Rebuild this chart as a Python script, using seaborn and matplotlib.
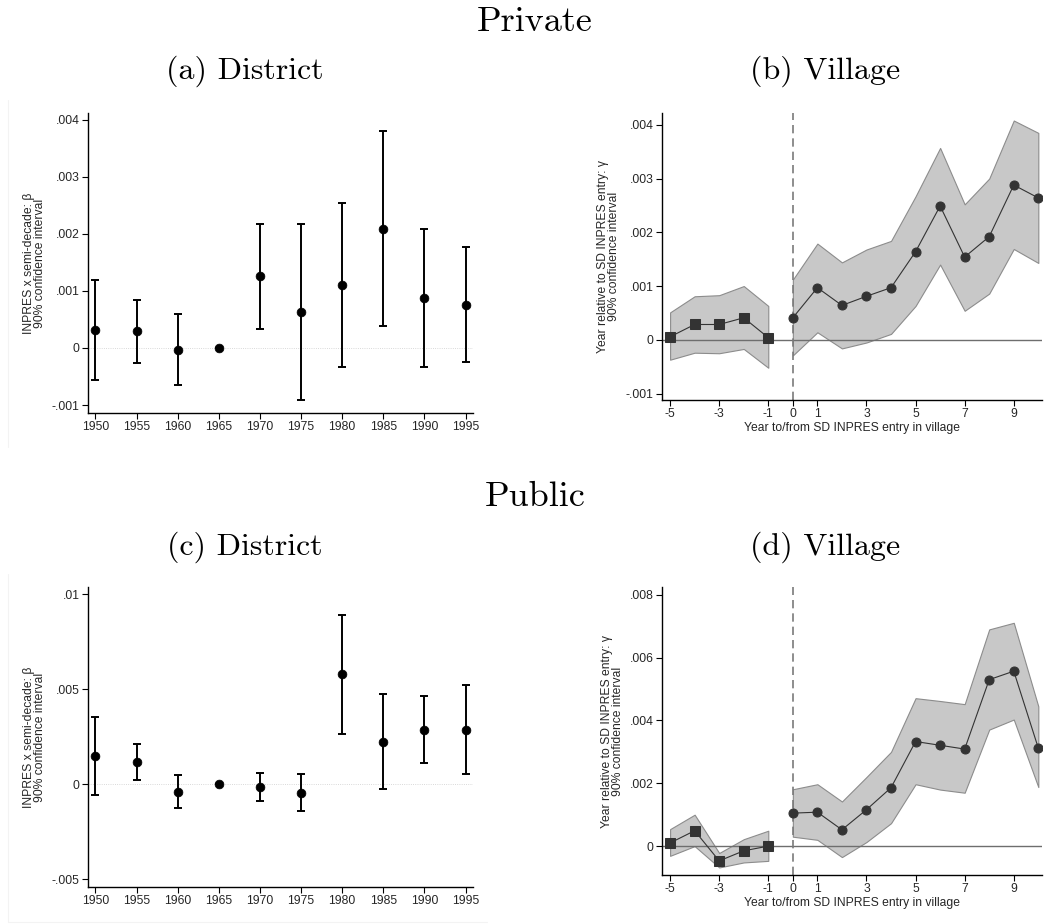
import numpy as np
import pandas as pd
import seaborn as sns
import matplotlib
matplotlib.use("Agg")
from matplotlib import pyplot as plt
from matplotlib.lines import Line2D

# ---- data ----
years = [1950, 1955, 1960, 1965, 1970, 1975, 1980, 1985, 1990, 1995]

priv_dist_b = [0.00032, 0.00029, -0.00003, 0.0, 0.00126, 0.00063, 0.00110, 0.00209, 0.00088, 0.00075]
priv_dist_hi = [0.00120, 0.00084, 0.00060, 0.0, 0.00218, 0.00218, 0.00255, 0.00380, 0.00209, 0.00177]
priv_dist_lo = [-0.00056, -0.00026, -0.00065, 0.0, 0.00034, -0.00092, -0.00034, 0.00039, -0.00033, -0.00025]

pub_dist_b = [0.00149, 0.00117, -0.00040, 0.0, -0.00014, -0.00044, 0.00578, 0.00224, 0.00287, 0.00287]
pub_dist_hi = [0.00356, 0.00209, 0.00047, 0.0, 0.00061, 0.00056, 0.00892, 0.00477, 0.00466, 0.00522]
pub_dist_lo = [-0.00058, 0.00023, -0.00128, 0.0, -0.00088, -0.00142, 0.00265, -0.00026, 0.00109, 0.00056]

pre_t = [-5, -4, -3, -2, -1]
post_t = [0, 1, 2, 3, 4, 5, 6, 7, 8, 9, 10]

priv_pre_g = [0.000056, 0.000285, 0.000285, 0.00041, 0.00004]
priv_pre_hi = [0.00051, 0.00081, 0.00083, 0.00100, 0.00063]
priv_pre_lo = [-0.00037, -0.00024, -0.00025, -0.00017, -0.00052]
priv_post_g = [0.00041, 0.00097, 0.00064, 0.00081, 0.00097, 0.00164, 0.00249, 0.00154, 0.00192, 0.00288, 0.00264]
priv_post_hi = [0.00112, 0.00179, 0.00144, 0.00168, 0.00184, 0.00267, 0.00357, 0.00252, 0.00300, 0.00408, 0.00385]
priv_post_lo = [-0.00029, 0.00014, -0.00016, -0.00005, 0.00011, 0.00063, 0.00140, 0.00054, 0.00086, 0.00169, 0.00143]

pub_pre_g = [0.00010, 0.00049, -0.00047, -0.00015, 0.0]
pub_pre_hi = [0.00054, 0.00100, -0.00022, 0.00022, 0.00049]
pub_pre_lo = [-0.00031, 0.0, -0.00068, -0.00052, -0.00047]
pub_post_g = [0.00105, 0.00108, 0.00052, 0.00116, 0.00186, 0.00333, 0.00321, 0.00309, 0.00530, 0.00557, 0.00312]
pub_post_hi = [0.00181, 0.00197, 0.00142, 0.00220, 0.00300, 0.00471, 0.00462, 0.00452, 0.00690, 0.00711, 0.00445]
pub_post_lo = [0.00030, 0.00020, -0.00035, 0.00013, 0.00073, 0.00197, 0.00180, 0.00170, 0.00371, 0.00403, 0.00188]

priv_dist_ticks = [-0.001, 0, 0.001, 0.002, 0.003, 0.004]
pub_dist_ticks = [-0.005, 0, 0.005, 0.01]
priv_vil_ticks = [-0.001, 0, 0.001, 0.002, 0.003, 0.004]
pub_vil_ticks = [0, 0.002, 0.004, 0.006, 0.008]
vil_xticks = [-5, -3, -1, 0, 1, 3, 5, 7, 9]

sns.set_style("ticks")
plt.rcParams['font.family'] = ['Liberation Sans', 'DejaVu Sans']
plt.rcParams['axes.linewidth'] = 1.0

W, H = 1047, 924
fig = plt.figure(figsize=(W / 100, H / 100), dpi=100)

# very faint left/bottom edges of the district graph regions
frame_col = '#f3f3f3'
for top, bottom in [(100, 447), (574, 922)]:
    fig.lines.append(Line2D([7.5 / W, 7.5 / W], [1 - top / H, 1 - bottom / H],
                            transform=fig.transFigure, color=frame_col, lw=0.8))
fig.lines.append(Line2D([7.5 / W, 487 / W], [1 - 922 / H, 1 - 922 / H],
                        transform=fig.transFigure, color=frame_col, lw=0.8))


def px_axes(left, top, right, bottom):
    return fig.add_axes([left / W, 1 - bottom / H, (right - left) / W, (bottom - top) / H])


def stata_lab(v):
    if v == 0:
        return "0"
    s = ("%g" % v)
    return s.replace("0.", ".")


def style_axes(ax, yticks):
    sns.despine(ax=ax)
    ax.set_yticks(yticks)
    ax.set_yticklabels([stata_lab(v) for v in yticks])
    ax.tick_params(axis='both', labelsize=8.7, length=4, width=0.8, color='black', pad=2)
    for s in ['left', 'bottom']:
        ax.spines[s].set_color('black')


def district(ax, b, lo, hi, yticks, ylim):
    df = pd.DataFrame({'year': years, 'b': b, 'lo': lo, 'hi': hi})
    ax.axhline(0, color='#cccccc', lw=0.6, ls=':', zorder=0)
    err = np.vstack([df['b'] - df['lo'], df['hi'] - df['b']])
    ax.errorbar(df['year'], df['b'], yerr=err, fmt='none', ecolor='black',
                elinewidth=1.4, capsize=3, capthick=1.4, zorder=2)
    sns.scatterplot(data=df, x='year', y='b', ax=ax, color='black', s=40,
                    edgecolor='black', zorder=3)
    ax.set_xlim(1949.1, 1995.9)
    ax.set_ylim(*ylim)
    ax.set_xticks(years)
    style_axes(ax, yticks)
    ax.set_xlabel("")
    ax.set_ylabel("INPRES x semi-decade: β\n90% confidence interval", fontsize=8.7,
                  linespacing=0.95, labelpad=4)


def village(ax, pre_g, pre_lo, pre_hi, post_g, post_lo, post_hi, yticks, ylim):
    pre = pd.DataFrame({'t': pre_t, 'g': pre_g, 'lo': pre_lo, 'hi': pre_hi})
    post = pd.DataFrame({'t': post_t, 'g': post_g, 'lo': post_lo, 'hi': post_hi})
    for d in (pre, post):
        ax.fill_between(d['t'], d['lo'], d['hi'], color='#c8c8c8', edgecolor='#8c8c8c',
                        lw=0.8, zorder=1)
    ax.axhline(0, color='#6e6e6e', lw=1.0, zorder=2)
    ax.axvline(0, color='#7a7a7a', lw=1.2, ls=(0, (5, 3)), zorder=2)
    sns.lineplot(data=pre, x='t', y='g', ax=ax, color='#333333', lw=0.8, marker='s',
                 markersize=6.5, markeredgecolor='#333333', zorder=3)
    sns.lineplot(data=post, x='t', y='g', ax=ax, color='#333333', lw=0.8, marker='o',
                 markersize=6.5, markeredgecolor='#333333', zorder=3)
    ax.set_xlim(-5.33, 10.15)
    ax.set_ylim(*ylim)
    ax.set_xticks(vil_xticks)
    ax.set_xticklabels([str(v) for v in vil_xticks])
    style_axes(ax, yticks)
    ax.set_xlabel("Year to/from SD INPRES entry in village", fontsize=8.7, labelpad=1)
    ax.set_ylabel("Year relative to SD INPRES entry: γ\n90% confidence interval", fontsize=8.7,
                  linespacing=0.95, labelpad=4)


ax1 = px_axes(88, 113, 473, 413)
district(ax1, priv_dist_b, priv_dist_lo, priv_dist_hi, priv_dist_ticks, (-0.00114, 0.00412))

ax2 = px_axes(662, 113, 1042, 400)
village(ax2, priv_pre_g, priv_pre_lo, priv_pre_hi, priv_post_g, priv_post_lo, priv_post_hi,
        priv_vil_ticks, (-0.00112, 0.00422))

ax3 = px_axes(88, 587, 473, 887)
district(ax3, pub_dist_b, pub_dist_lo, pub_dist_hi, pub_dist_ticks, (-0.00542, 0.01039))

ax4 = px_axes(662, 587, 1042, 875)
village(ax4, pub_pre_g, pub_pre_lo, pub_pre_hi, pub_post_g, pub_post_lo, pub_post_hi,
        pub_vil_ticks, (-0.00092, 0.00825))

tfont = dict(family='cmr10', color='black', ha='center', va='center')
fig.text(535 / W, 1 - 22 / H, "Private", fontsize=26, **tfont)
fig.text(245 / W, 1 - 71 / H, "(a) District", fontsize=23, **tfont)
fig.text(825 / W, 1 - 71 / H, "(b) Village", fontsize=23, **tfont)
fig.text(535 / W, 1 - 497 / H, "Public", fontsize=26, **tfont)
fig.text(245 / W, 1 - 547 / H, "(c) District", fontsize=23, **tfont)
fig.text(825 / W, 1 - 547 / H, "(d) Village", fontsize=23, **tfont)

fig.savefig("out.png", dpi=100)
